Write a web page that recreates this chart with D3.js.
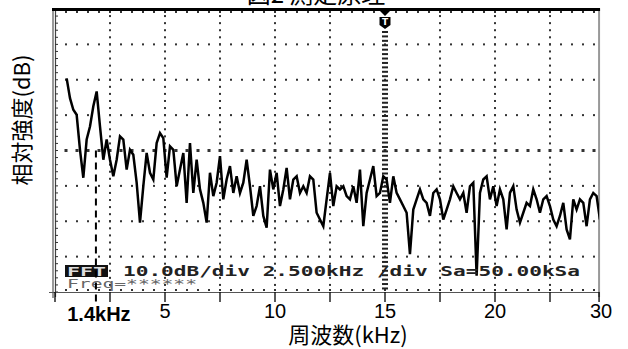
<!DOCTYPE html>
<html><head><meta charset="utf-8">
<script src="https://cdn.jsdelivr.net/npm/d3@7"></script>
<style>html,body{margin:0;padding:0;background:#fff;} svg{display:block}</style>
</head><body><svg id="c" width="628" height="349"></svg>
<script>
// ---- data ----
const levelsDb = [
-19.6,-25.2,-28.5,-29.9,-39.8,-47.7,-36.9,-33.2,-27.5,-23.3,
-33.2,-42.6,-36.9,-42.6,-47.3,-42.6,-36.0,-36.9,-45.4,-39.8,
-41.2,-49.1,-60.4,-50.1,-40.7,-46.3,-48.2,-37.9,-35.1,-36.5,
-47.7,-38.8,-39.8,-50.1,-45.4,-40.7,-54.8,-37.9,-52.0,-42.6,
-51.0,-54.8,-60.4,-46.3,-52.9,-49.1,-41.6,-53.8,-48.2,-44.4,
-52.0,-47.3,-52.0,-49.1,-42.6,-50.1,-58.5,-55.7,-50.1,-58.5,
-61.8,-45.4,-51.0,-46.3,-55.7,-51.0,-44.9,-53.8,-48.2,-47.3,
-52.0,
-50.1,-52.0,-47.3,-48.2,-57.6,-59.5,-61.4,-53.8,-46.3,-55.7,
-50.1,-51.0,-50.1,-52.9,-53.8,-50.1,-54.8,-45.4,-61.4,-52.0,
-48.2,-44.4,-52.9,-52.0,-47.3,-48.2,-54.8,-47.3,-52.0,-53.8,
-55.7,-57.6,-69.3,-56.7,-53.8,-51.0,-53.8,-54.8,-58.5,-52.0,
-51.0,-53.8,-59.5,-56.7,-53.8,-50.1,-52.0,-53.8,-52.0,-57.6,
-50.1,-49.1,-75.4,-52.0,-48.2,-47.3,-53.8,-50.1,-55.7,-51.0,
-53.8,-62.3,-52.0,-50.1,-56.7,-60.4,-57.6,-54.8,-55.7,-51.0,
-53.8,-57.6,-53.8,-52.9,-55.7,-59.5,-61.4,-58.5,-54.8,-62.3,
-65.1,-53.8,-56.7,-53.8,-54.8,-61.4,-53.8,-52.0,-52.9,-59.5
];
const startKHz = 0.53;      // first FFT bin shown
const binKHz = 0.1515;      // bin spacing
const xDivKHz = [0,2.5,5,7.5,10,12.5,15,17.5,20,22.5];
const xLabelKHz = [5,10,15,20];
const xLabelText = ["5","10","15","20"];
const visibleMaxKHz = 24.73;
const edgeLabelText = "30";
const markerKHz = 1.86;
const markerText = "1.4kHz";
const triggerKHz = 15;
const yDivDb = [-80,-70,-60,-50,-40,-30,-20,-10,0];
const titleText = "図2 測定原理";
const yTitle = "相対強度(dB)";
const xTitle = "周波数(kHz)";
const modeText = "FFT";
const infoText = "10.0dB/div 2.500kHz /div Sa=50.00kSa";
const freqText = "Freq=******";

// ---- scales ----
const svg = d3.select("#c");
const x = d3.scaleLinear().domain([0,25]).range([55,605]);
const y = d3.scaleLinear().domain([-80,0]).range([292,9]);
const xL = x(0), xR = x(visibleMaxKHz), yT = y(0), yB = y(-80);

svg.append("defs").append("clipPath").attr("id","plot")
  .append("rect").attr("x",xL).attr("y",yT+2).attr("width",xR-xL).attr("height",yB-yT-2);

// title (cut off at top, as in the source)
svg.append("text").attr("x",316).attr("y",3).attr("text-anchor","middle")
  .attr("font-family","Noto Sans CJK JP").attr("font-size",24).attr("fill","#000").text(titleText);

const g = svg.append("g");

// vertical dotted grid
const minorDb = d3.range(-80,0.01,2);
const minorKHz = d3.range(0.5,visibleMaxKHz,0.5);
xDivKHz.filter(d=>d>0 && d!==triggerKHz).forEach(t=>{
  g.selectAll(null).data(minorDb.filter(v=>v<0 && v>-80)).enter().append("rect")
   .attr("x",x(t)-1).attr("y",v=>y(v)-1).attr("width",2).attr("height",2).attr("fill","#333");
});
// horizontal dotted grid
yDivDb.filter(v=>v>-80 && v<0).forEach(v=>{
  const s = v===-40 ? 3 : 2;
  g.selectAll(null).data(minorKHz).enter().append("rect")
   .attr("x",f=>x(f)-s/2).attr("y",y(v)-s/2).attr("width",s).attr("height",s).attr("fill","#333");
});
// top row dots and bottom row dots
g.selectAll(null).data(minorKHz).enter().append("rect")
  .attr("x",f=>x(f)-1).attr("y",yT+2).attr("width",2).attr("height",2).attr("fill","#333");
g.selectAll(null).data(minorKHz).enter().append("rect")
  .attr("x",f=>x(f)-1).attr("y",yB-3).attr("width",2).attr("height",2).attr("fill","#333");

// trigger marker dashed line
g.selectAll(null).data(d3.range(-79,-6,1.25)).enter().append("rect")
  .attr("x",x(triggerKHz)-3).attr("y",v=>y(v)-1).attr("width",6).attr("height",2).attr("fill","#222");

// left border
g.append("rect").attr("x",xL-3).attr("y",yT).attr("width",2).attr("height",yB-yT+6).attr("fill","#999");
g.append("line").attr("x1",xL+0.5).attr("x2",xL+0.5).attr("y1",yT).attr("y2",yB+5).attr("stroke","#444").attr("stroke-width",1.2);
g.selectAll(null).data(minorDb).enter().append("line")
  .attr("x1",xL).attr("x2",xL+3).attr("y1",v=>y(v)).attr("y2",v=>y(v)).attr("stroke","#333").attr("stroke-width",1);
// right border
g.append("line").attr("x1",xR).attr("x2",xR).attr("y1",yT).attr("y2",yB+5).attr("stroke","#999").attr("stroke-width",2);
// top border
g.append("line").attr("x1",xL-3).attr("x2",xR+1).attr("y1",yT+0.5).attr("y2",yT+0.5).attr("stroke","#000").attr("stroke-width",3);
// bottom line + ticks
g.append("line").attr("x1",xL-6).attr("x2",xR).attr("y1",yB+0.5).attr("y2",yB+0.5).attr("stroke","#555").attr("stroke-width",1);
g.selectAll(null).data(xDivKHz.concat([visibleMaxKHz])).enter().append("line")
  .attr("x1",d=>x(d)).attr("x2",d=>x(d)).attr("y1",yB).attr("y2",yB+10).attr("stroke","#000").attr("stroke-width",1.3);

// trigger T marker
const tx = x(triggerKHz);
g.append("path").attr("d",`M${tx-6},${yT+1}L${tx+6},${yT+1}L${tx},${yT+7}Z`).attr("fill","#000");
g.append("path").attr("d",`M${tx-5.5},${yT+8}L${tx+5.5},${yT+8}L${tx+5.5},${yT+16}L${tx},${yT+20}L${tx-5.5},${yT+16}Z`).attr("fill","#000");
g.append("text").attr("x",tx).attr("y",yT+16).attr("text-anchor","middle").attr("font-family","DejaVu Sans")
  .attr("font-weight","bold").attr("font-size",9).attr("fill","#fff").text("T");

// spectrum trace
const line = d3.line().x((d,i)=>x(startKHz+i*binKHz)).y(d=>y(d));
g.append("path").datum(levelsDb).attr("d",line).attr("clip-path","url(#plot)")
  .attr("fill","none").attr("stroke","#000").attr("stroke-width",2.5).attr("stroke-linejoin","miter");

// info text
g.append("rect").attr("x",65).attr("y",265).attr("width",43).attr("height",12).attr("fill","#111");
g.append("text").attr("x",67).attr("y",275.5).attr("font-family","DejaVu Sans Mono").attr("font-weight","bold")
  .attr("font-size",13).attr("fill","#ddd").attr("textLength",39).attr("lengthAdjust","spacingAndGlyphs").text(modeText);
g.append("text").attr("x",123).attr("y",276).attr("font-family","DejaVu Sans Mono").attr("font-weight","bold").attr("font-size",14)
  .attr("fill","#222").attr("textLength",457).attr("lengthAdjust","spacingAndGlyphs").text(infoText);
g.append("text").attr("x",67).attr("y",288).attr("font-family","DejaVu Sans Mono").attr("font-size",12)
  .attr("fill","#666").attr("textLength",130).attr("lengthAdjust","spacingAndGlyphs").text(freqText);

// marker dashed line
g.append("line").attr("x1",x(markerKHz)).attr("x2",x(markerKHz)).attr("y1",y(-40)).attr("y2",yB+12)
  .attr("stroke","#000").attr("stroke-width",2).attr("stroke-dasharray","7,5");

// axis labels
const lab = svg.append("g").attr("font-family","Liberation Sans, Arial").attr("font-size",20).attr("fill","#000");
lab.selectAll(null).data(xLabelKHz).enter().append("text").attr("x",d=>x(d)).attr("y",318)
  .attr("text-anchor","middle").text((d,i)=>xLabelText[i]);
lab.append("text").attr("x",xR+2).attr("y",318).attr("text-anchor","middle").text(edgeLabelText);
lab.append("text").attr("x",x(markerKHz)+3).attr("y",321).attr("text-anchor","middle").attr("font-weight","bold").text(markerText);

// axis titles
svg.append("text").attr("x",348).attr("y",343).attr("text-anchor","middle")
  .attr("font-family","Noto Sans CJK JP").attr("font-size",22).text(xTitle);
svg.append("text").attr("transform","translate(30,120) rotate(-90)").attr("text-anchor","middle")
  .attr("font-family","Noto Sans CJK JP").attr("font-size",22).text(yTitle);
</script></body></html>
